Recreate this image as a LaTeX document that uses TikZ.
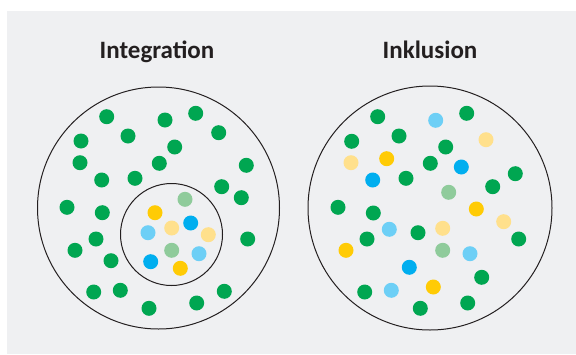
\documentclass[tikz,border=0pt]{standalone}
\usepackage{fontspec}
\setmainfont{Carlito}
\definecolor{bg}{RGB}{239,240,242}
\definecolor{cg}{RGB}{0,166,81}
\definecolor{cy}{RGB}{255,203,5}
\definecolor{cly}{RGB}{255,224,140}
\definecolor{cb}{RGB}{0,174,239}
\definecolor{clb}{RGB}{109,207,246}
\definecolor{clg}{RGB}{143,203,155}
\definecolor{ink}{RGB}{35,31,32}
\tikzset{
  ring/.style={draw=ink,line width=1pt},
  dotg/.style={fill=cg},
  doty/.style={fill=cy},
  dotly/.style={fill=cly},
  dotb/.style={fill=cb},
  dotlb/.style={fill=clb},
  dotlg/.style={fill=clg},
  title/.style={font=\bfseries\fontsize{25}{27}\selectfont,text=ink,inner sep=0pt,anchor=base}
}
\newcommand{\dt}[3]{\fill[#1] (#2,#3) circle (7.5);}
\begin{document}
\begin{tikzpicture}[x=1pt,y=-1pt]
\useasboundingbox (0,0) rectangle (576,354);
\fill[white] (0,0) rectangle (576,354);
\fill[bg] (7,11) rectangle (576,354);
\node[title] (t1) at (157,58.5) {Integration};
\node[title] (t2) at (430,58.5) {Inklusion};
\draw[ring] (158.5,208) circle (121);
\draw[ring] (171.5,234.5) circle (51);
\draw[ring] (430,208) circle (122);
% left greens
\foreach \x/\y in {106.7/116.7,165/120,195.7/113.3,218.7/132.7,81/141,128/136,174.7/147,80/162.7,159.3/163.3,246.3/165.3,101.7/180,135/178.3,221.7/186.7,241.3/197.7,67/207.3,102.3/212.7,96/239,247.7/239,75/250.3,111/260.7,93.7/292,120.3/290.3,149/308.3,196.7/303,224.3/291.3}
  {\dt{dotg}{\x}{\y}}
% inner
\dt{dotlg}{185}{199.3}
\dt{doty}{155}{212.7}
\dt{dotlb}{148}{232.7}
\dt{dotly}{171.7}{228}
\dt{dotb}{190.7}{223}
\dt{dotly}{208.3}{234.7}
\dt{dotlg}{171.7}{250.3}
\dt{dotlb}{199}{253.7}
\dt{dotb}{150.7}{261.7}
\dt{doty}{180.3}{268.3}
% right
\foreach \x/\y in {377.7/116.7,466.7/113.3,351.7/141.3,399/136,445.7/147,430.3/163.3,515.3/173.7,406/178.3,492.7/186.7,338/207.3,373.3/213,418/232.7,367/239,518.7/239,481.7/277.3,364.7/292,420.3/308.3,467.7/303}
  {\dt{dotg}{\x}{\y}}
\foreach \x/\y in {435.7/120.3,389.3/229.3,470/253.7,391.3/290.3}
  {\dt{dotlb}{\x}{\y}}
\foreach \x/\y in {486/139.7,351/162.7,503.7/221.7,442.7/228.3}
  {\dt{dotly}{\x}{\y}}
\foreach \x/\y in {386.7/158.7,476.3/209,346/250.3,433.3/287}
  {\dt{doty}{\x}{\y}}
\foreach \x/\y in {461.3/167,372.7/180,409.3/267.3}
  {\dt{dotb}{\x}{\y}}
\foreach \x/\y in {448.7/192.3,442.7/250.3}
  {\dt{dotlg}{\x}{\y}}
\end{tikzpicture}
\end{document}
